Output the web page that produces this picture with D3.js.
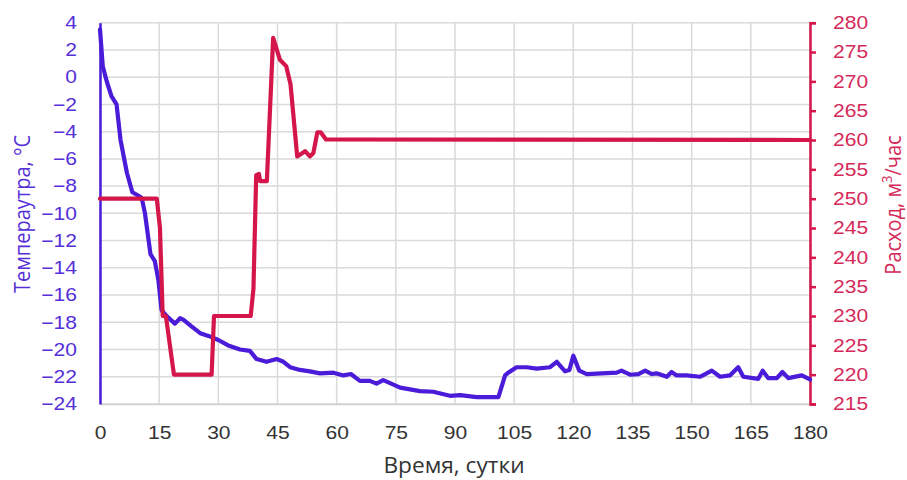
<!DOCTYPE html>
<html>
<head>
<meta charset="utf-8">
<script src="https://cdn.jsdelivr.net/npm/d3@7/dist/d3.min.js"></script>
<style>
  html, body { margin: 0; padding: 0; background: #fff; }
  svg { display: block; font-family: "Open Sans", "Noto Sans", sans-serif; }
</style>
</head>
<body>
<svg id="chart" width="907" height="480"></svg>
<script>
// Temperature, °C, by day
const tempDays = [0, 0.7, 1.7, 2.9, 4.2, 5.2, 6.8, 8.2, 10.1, 10.6, 11.4, 12.8, 13.9, 14.8, 15.6, 17.1, 19, 20.3, 21.1, 23.2, 25.4, 27.5, 30, 32.5, 35.5, 38, 39.7, 42.2, 44.8, 46.5, 48.2, 50.7, 53.2, 55.8, 59.2, 61.7, 63.6, 65.9, 68.4, 70.1, 71.8, 76.1, 81.1, 84.5, 88.7, 91.3, 95.5, 101, 102.7, 103.5, 105.6, 108.2, 110.7, 114.1, 115.8, 117.9, 119, 120, 121.5, 123.4, 131, 132.2, 134.4, 136.5, 138.2, 139.9, 141.1, 143.7, 144.9, 146.2, 148.7, 152.1, 155.1, 157.2, 159.7, 161.8, 163.1, 166.9, 168, 169.4, 171.6, 173, 174.5, 177.9, 180];
const tempValues = [3.5, 0.8, -0.3, -1.4, -2.0, -4.6, -7.0, -8.45, -8.76, -8.9, -10.0, -13.0, -13.5, -14.9, -17.1, -17.6, -18.1, -17.7, -17.8, -18.3, -18.8, -19.0, -19.3, -19.7, -20.0, -20.1, -20.7, -20.9, -20.7, -20.9, -21.3, -21.5, -21.6, -21.75, -21.7, -21.9, -21.8, -22.3, -22.3, -22.5, -22.25, -22.8, -23.05, -23.1, -23.4, -23.35, -23.5, -23.5, -21.9, -21.7, -21.3, -21.3, -21.4, -21.3, -20.9, -21.6, -21.5, -20.45, -21.55, -21.8, -21.7, -21.55, -21.85, -21.8, -21.55, -21.8, -21.75, -22.0, -21.65, -21.9, -21.9, -22.0, -21.55, -22.0, -21.9, -21.3, -22.0, -22.15, -21.55, -22.1, -22.1, -21.65, -22.1, -21.9, -22.2];

// Flow rate, m³/h, by day
const flowDays = [0, 14.4, 15.2, 15.9, 16.7, 18.75, 28.3, 28.9, 38.2, 38.9, 39.6, 40.3, 40.6, 42.3, 43.9, 45.6, 47.2, 48.3, 50, 52, 53.2, 54.1, 55.1, 56, 57.3, 180];
const flowValues = [250, 250, 245, 230, 230, 220, 220, 230, 230, 234.6, 254, 254.2, 253, 253, 277.4, 273.7, 272.6, 269.5, 257.2, 258.1, 257.2, 257.8, 261.3, 261.3, 260.1, 260];

// Axis ticks
const dayTicks = [0, 15, 30, 45, 60, 75, 90, 105, 120, 135, 150, 165, 180];
const tempTicks = [4, 2, 0, -2, -4, -6, -8, -10, -12, -14, -16, -18, -20, -22, -24];
const flowTicks = [280, 275, 270, 265, 260, 255, 250, 245, 240, 235, 230, 225, 220, 215];

const blue = "#4a1bd8";
const blueText = "#5530d8";
const red = "#d4164b";
const redText = "#d42a5a";

// Labels are set a little wider than the font's natural width
const tickStretch = 1.17;
const titleStretch = 1.08;

const svg = d3.select("#chart");
const plotLeft = 100, plotRight = 810, plotTop = 22.7, plotBottom = 404;

const x = d3.scaleLinear().domain([0, 180]).range([plotLeft, plotRight]);
const yT = d3.scaleLinear().domain([-24, 4]).range([plotBottom, plotTop]);
const yQ = d3.scaleLinear().domain([215, 280]).range([plotBottom, plotTop]);

// Grid
const grid = svg.append("g").attr("stroke", "#d9d9d9").attr("stroke-width", 1.5);
grid.selectAll("line.h").data(tempTicks).join("line").attr("class", "h")
  .attr("x1", plotLeft).attr("x2", plotRight)
  .attr("y1", d => yT(d)).attr("y2", d => yT(d));
grid.selectAll("line.v").data(dayTicks).join("line").attr("class", "v")
  .attr("x1", d => x(d)).attr("x2", d => x(d))
  .attr("y1", plotTop).attr("y2", plotBottom);

// Bottom axis
const xAxis = svg.append("g")
  .attr("transform", `translate(0,${plotBottom})`)
  .call(d3.axisBottom(x).tickValues(dayTicks).tickSize(0).tickPadding(22).tickFormat(d3.format("d")));
xAxis.select(".domain").attr("stroke", "#d0d0d0").attr("stroke-width", 1.5);
xAxis.selectAll("text").attr("fill", "#333").attr("font-size", 18)
  .attr("dy", "0.35em").attr("transform", `scale(${tickStretch},1)`);
xAxis.selectAll("text").attr("y", 29);

// Left axis (temperature)
const lAxis = svg.append("g")
  .attr("transform", `translate(${plotLeft},0)`)
  .call(d3.axisLeft(yT).tickValues(tempTicks).tickSize(0).tickPadding(23 / tickStretch).tickFormat(d3.format("d")));
lAxis.select(".domain").attr("stroke", blue).attr("stroke-width", 2.5);
lAxis.selectAll("text").attr("fill", blueText).attr("font-size", 18)
  .attr("transform", `scale(${tickStretch},1)`);

// Right axis (flow)
const rAxis = svg.append("g")
  .attr("transform", `translate(${plotRight},0)`)
  .call(d3.axisRight(yQ).tickValues(flowTicks).tickSizeInner(6).tickSizeOuter(6).tickPadding(23 / tickStretch - 6).tickFormat(d3.format("d")));
rAxis.select(".domain").attr("stroke", red).attr("stroke-width", 2.5);
rAxis.selectAll(".tick line").attr("stroke", red).attr("stroke-width", 2.5);
rAxis.selectAll("text").attr("fill", redText).attr("font-size", 18)
  .attr("transform", `scale(${tickStretch},1)`);

// Series
const tempLine = d3.line().x(d => x(d[0])).y(d => yT(d[1]));
const flowLine = d3.line().x(d => x(d[0])).y(d => yQ(d[1]));

svg.append("path")
  .datum(tempDays.map((d, i) => [d, tempValues[i]]))
  .attr("d", tempLine)
  .attr("fill", "none").attr("stroke", blue).attr("stroke-width", 4.2)
  .attr("stroke-linejoin", "round").attr("stroke-linecap", "round");

svg.append("path")
  .datum(flowDays.map((d, i) => [d, flowValues[i]]))
  .attr("d", flowLine)
  .attr("fill", "none").attr("stroke", red).attr("stroke-width", 4.2)
  .attr("stroke-linejoin", "round").attr("stroke-linecap", "round");

// Axis titles
svg.append("text")
  .attr("transform", `translate(30,214) scale(${titleStretch},1) rotate(-90)`)
  .attr("text-anchor", "middle").attr("font-size", 20).attr("fill", blueText)
  .text("Темпераутра, °C");

const rt = svg.append("text")
  .attr("transform", `translate(901,205) scale(${titleStretch},1) rotate(-90)`)
  .attr("text-anchor", "middle").attr("font-size", 20).attr("fill", redText);
rt.append("tspan").text("Расход, м");
rt.append("tspan").attr("font-size", 13).attr("dy", -8).text("3");
rt.append("tspan").attr("dy", 8).text("/час");

svg.append("text")
  .attr("transform", `translate(454,473) scale(${titleStretch},1)`)
  .attr("text-anchor", "middle").attr("font-size", 21).attr("fill", "#333")
  .text("Время, сутки");
</script>
</body>
</html>
